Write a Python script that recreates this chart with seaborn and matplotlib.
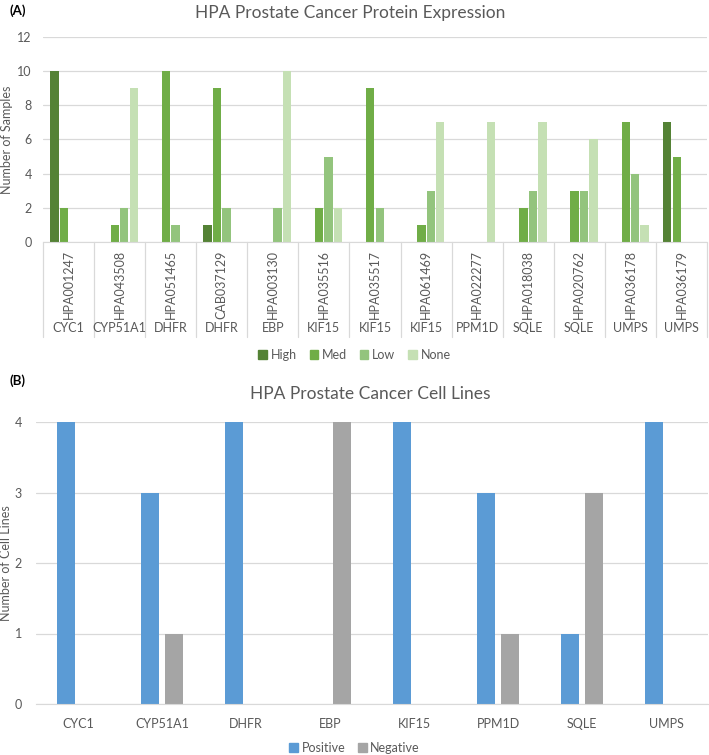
import numpy as np
import pandas as pd
import matplotlib.pyplot as plt
import matplotlib.transforms as mtrans
from matplotlib.patches import Patch
import seaborn as sb

# panel A - protein expression per antibody
antibodies = ['HPA001247', 'HPA043508', 'HPA051465', 'CAB037129', 'HPA003130',
              'HPA035516', 'HPA035517', 'HPA061469', 'HPA022277', 'HPA018038',
              'HPA020762', 'HPA036178', 'HPA036179']
genes_a = ['CYC1', 'CYP51A1', 'DHFR', 'DHFR', 'EBP', 'KIF15', 'KIF15', 'KIF15',
           'PPM1D', 'SQLE', 'SQLE', 'UMPS', 'UMPS']
high = [10, 0, 0, 1, 0, 0, 0, 0, 0, 0, 0, 0, 7]
med = [2, 1, 10, 9, 0, 2, 9, 1, 0, 2, 3, 7, 5]
low = [0, 2, 1, 2, 2, 5, 2, 3, 0, 3, 3, 4, 0]
none = [0, 9, 0, 0, 10, 2, 0, 7, 7, 7, 6, 1, 0]
levels = ['High', 'Med', 'Low', 'None']

# panel B - cell lines
genes_b = ['CYC1', 'CYP51A1', 'DHFR', 'EBP', 'KIF15', 'PPM1D', 'SQLE', 'UMPS']
positive = [4, 3, 4, 0, 4, 3, 1, 4]
negative = [0, 1, 0, 4, 0, 1, 3, 0]

greens = ['#548235', '#70AD47', '#93C47D', '#C5E0B4']
cores_b = ['#5B9BD5', '#A5A5A5']
cinza = '#595959'
grade = '#D9D9D9'

sb.set_style('white')
plt.rcParams['font.family'] = ['Lato', 'DejaVu Sans']

W, H = 709, 755
fig = plt.figure(figsize=(W / 100, H / 100), dpi=100)

# ---------------- (A) ----------------
df_a = pd.DataFrame({'antibody': antibodies, 'High': high, 'Med': med,
                     'Low': low, 'None': none})
df_a = df_a.melt(id_vars='antibody', var_name='level', value_name='count')

ax1 = fig.add_axes([43 / W, 1 - 242 / H, 664 / W, 205 / H])
sb.barplot(data=df_a, x='antibody', y='count', hue='level', hue_order=levels,
           palette=greens, saturation=1, width=0.74, gap=0.12, errorbar=None,
           linewidth=0, legend=False, ax=ax1)
ax1.set_ylim(0, 12)
ax1.set_yticks(range(0, 13, 2))
ax1.set_xlim(-0.5, len(antibodies) - 0.5)
ax1.grid(axis='y', color=grade, lw=0.9)
ax1.set_axisbelow(True)
for s in ['top', 'right', 'left']:
    ax1.spines[s].set_visible(False)
ax1.spines['bottom'].set_color(grade)
ax1.tick_params(axis='y', length=0, pad=8, labelsize=9, labelcolor=cinza)
ax1.tick_params(axis='x', length=0, pad=6, labelsize=9, labelcolor=cinza)
ax1.set_xticks(range(len(antibodies)))
ax1.set_xticklabels(antibodies, rotation=90, va='top')
ax1.set_xlabel('')
ax1.set_ylabel('Number of Samples', fontsize=9, color=cinza, va='center')
ax1.yaxis.set_label_coords(-0.054, 0.5)

trans = mtrans.blended_transform_factory(ax1.transData, ax1.transAxes)
for i in range(len(antibodies) + 1):
    ax1.plot([i - 0.5, i - 0.5], [0, -0.465], transform=trans, color=grade,
             lw=0.9, clip_on=False)
for i, g in enumerate(genes_a):
    ax1.text(i, -0.42, g, transform=trans, ha='center', va='center',
             fontsize=9, color=cinza)

handles = [Patch(color=c, label=l) for c, l in zip(greens, levels)]
fig.legend(handles=handles, loc='center', bbox_to_anchor=(0.5, 1 - 355 / H),
           ncol=4, frameon=False, fontsize=9, labelcolor=cinza,
           handlelength=0.7, handleheight=0.7, handletextpad=0.3,
           columnspacing=1.0)

fig.text(350 / W, 1 - 13 / H, 'HPA Prostate Cancer Protein Expression',
         ha='center', va='center', fontsize=12.5, color=cinza)
fig.text(10 / W, 1 - 11 / H, '(A)', ha='left', va='center', fontsize=9.5,
         fontweight='bold', color='black')

# ---------------- (B) ----------------
df_b = pd.DataFrame({'gene': genes_b, 'Positive': positive, 'Negative': negative})
df_b = df_b.melt(id_vars='gene', var_name='result', value_name='count')

ax2 = fig.add_axes([36 / W, 1 - 704 / H, 672 / W, 282 / H])
sb.barplot(data=df_b, x='gene', y='count', hue='result',
           hue_order=['Positive', 'Negative'], palette=cores_b, saturation=1,
           width=0.57, gap=0.25, errorbar=None, linewidth=0, legend=False,
           ax=ax2)
ax2.set_ylim(0, 4)
ax2.set_yticks(range(0, 5))
ax2.set_xlim(-0.5, len(genes_b) - 0.5)
ax2.grid(axis='y', color=grade, lw=0.9)
ax2.set_axisbelow(True)
for s in ['top', 'right', 'left']:
    ax2.spines[s].set_visible(False)
ax2.spines['bottom'].set_color(grade)
ax2.tick_params(axis='y', length=0, pad=10, labelsize=9, labelcolor=cinza)
ax2.tick_params(axis='x', length=0, pad=10, labelsize=9, labelcolor=cinza)
ax2.set_xlabel('')
ax2.set_ylabel('Number of Cell Lines', fontsize=9, color=cinza, va='center')
ax2.yaxis.set_label_coords(-0.045, 0.5)

handles_b = [Patch(color=c, label=l) for c, l in zip(cores_b, ['Positive', 'Negative'])]
fig.legend(handles=handles_b, loc='center', bbox_to_anchor=(0.5, 1 - 748 / H),
           ncol=2, frameon=False, fontsize=9, labelcolor=cinza,
           handlelength=0.7, handleheight=0.7, handletextpad=0.3,
           columnspacing=1.0)

fig.text(370 / W, 1 - 394 / H, 'HPA Prostate Cancer Cell Lines',
         ha='center', va='center', fontsize=12.5, color=cinza)
fig.text(10 / W, 1 - 381 / H, '(B)', ha='left', va='center', fontsize=9.5,
         fontweight='bold', color='black')

fig.savefig('out.png', dpi=100, facecolor='white')
